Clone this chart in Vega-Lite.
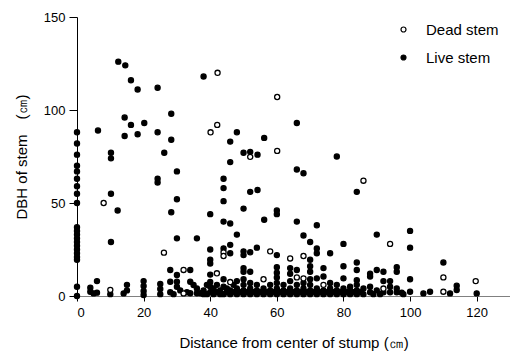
{
  "$schema": "https://vega.github.io/schema/vega-lite/v6.json",
  "width": 433,
  "height": 279,
  "autosize": "none",
  "padding": {"left": 77, "top": 17, "right": 0, "bottom": 57},
  "background": "white",
  "config": {
    "view": {"stroke": null},
    "font": "Liberation Sans",
    "axis": {"grid": false, "labelFont": "Liberation Sans", "titleFont": "Liberation Sans", "labelColor": "black", "titleColor": "black", "tickColor": "black", "domainColor": "black", "labelFontSize": 13, "titleFontSize": 15, "titleFontWeight": "normal", "tickSize": 5}
  },
  "data": {"values": [
    {"d": 0, "h": 88, "t": "Live stem"}, {"d": 0, "h": 82, "t": "Live stem"}, {"d": 0, "h": 76, "t": "Live stem"}, {"d": 0, "h": 70, "t": "Live stem"}, {"d": 0, "h": 67, "t": "Live stem"}, {"d": 0, "h": 63, "t": "Live stem"}, {"d": 0, "h": 59, "t": "Live stem"}, {"d": 0, "h": 55, "t": "Live stem"}, {"d": 0, "h": 50, "t": "Live stem"}, {"d": 0, "h": 37, "t": "Live stem"}, {"d": 0, "h": 35, "t": "Live stem"}, {"d": 0, "h": 33, "t": "Live stem"}, {"d": 0, "h": 31, "t": "Live stem"}, {"d": 0, "h": 29, "t": "Live stem"}, {"d": 0, "h": 27, "t": "Live stem"}, {"d": 0, "h": 25, "t": "Live stem"}, {"d": 0, "h": 23, "t": "Live stem"}, {"d": 0, "h": 21, "t": "Live stem"}, {"d": 0, "h": 19.5, "t": "Live stem"}, {"d": 0, "h": 5, "t": "Live stem"}, {"d": 0, "h": 0, "t": "Live stem"},
    {"d": 12.4, "h": 126, "t": "Live stem"}, {"d": 14.5, "h": 124, "t": "Live stem"}, {"d": 16.2, "h": 116, "t": "Live stem"}, {"d": 18.2, "h": 111, "t": "Live stem"}, {"d": 24.2, "h": 112, "t": "Live stem"}, {"d": 38, "h": 118, "t": "Live stem"},
    {"d": 6.3, "h": 89, "t": "Live stem"}, {"d": 14.3, "h": 96, "t": "Live stem"}, {"d": 16.2, "h": 92, "t": "Live stem"}, {"d": 20.2, "h": 93, "t": "Live stem"}, {"d": 14.3, "h": 86, "t": "Live stem"}, {"d": 18.2, "h": 87, "t": "Live stem"}, {"d": 24.2, "h": 88, "t": "Live stem"}, {"d": 28.3, "h": 98, "t": "Live stem"}, {"d": 28.3, "h": 84, "t": "Live stem"}, {"d": 26.2, "h": 77, "t": "Live stem"}, {"d": 48, "h": 88, "t": "Live stem"}, {"d": 46, "h": 83, "t": "Live stem"}, {"d": 56.2, "h": 85, "t": "Live stem"}, {"d": 50, "h": 77, "t": "Live stem"}, {"d": 52, "h": 77.5, "t": "Live stem"}, {"d": 54.2, "h": 76, "t": "Live stem"}, {"d": 66, "h": 93, "t": "Live stem"}, {"d": 78, "h": 75, "t": "Live stem"},
    {"d": 10.2, "h": 77, "t": "Live stem"}, {"d": 10.2, "h": 74, "t": "Live stem"}, {"d": 46, "h": 72, "t": "Live stem"}, {"d": 30, "h": 67, "t": "Live stem"}, {"d": 66, "h": 68, "t": "Live stem"}, {"d": 68, "h": 66, "t": "Live stem"}, {"d": 84, "h": 56, "t": "Live stem"}, {"d": 44, "h": 63, "t": "Live stem"}, {"d": 44, "h": 58, "t": "Live stem"}, {"d": 44, "h": 51, "t": "Live stem"}, {"d": 52, "h": 56, "t": "Live stem"}, {"d": 54.2, "h": 57, "t": "Live stem"}, {"d": 30, "h": 52, "t": "Live stem"}, {"d": 28.3, "h": 45, "t": "Live stem"}, {"d": 40, "h": 44, "t": "Live stem"}, {"d": 50, "h": 47, "t": "Live stem"}, {"d": 60, "h": 46, "t": "Live stem"}, {"d": 60, "h": 44, "t": "Live stem"}, {"d": 44, "h": 40, "t": "Live stem"}, {"d": 46, "h": 39, "t": "Live stem"}, {"d": 56.2, "h": 41, "t": "Live stem"}, {"d": 66, "h": 40, "t": "Live stem"}, {"d": 72, "h": 38, "t": "Live stem"}, {"d": 30, "h": 31, "t": "Live stem"}, {"d": 36, "h": 31, "t": "Live stem"}, {"d": 48, "h": 33, "t": "Live stem"}, {"d": 68, "h": 32.5, "t": "Live stem"}, {"d": 70, "h": 29, "t": "Live stem"}, {"d": 80, "h": 28, "t": "Live stem"}, {"d": 90, "h": 33, "t": "Live stem"}, {"d": 100, "h": 35, "t": "Live stem"}, {"d": 100, "h": 26, "t": "Live stem"},
    {"d": 10.2, "h": 55, "t": "Live stem"}, {"d": 12.2, "h": 46, "t": "Live stem"}, {"d": 10.2, "h": 29, "t": "Live stem"}, {"d": 24.2, "h": 63, "t": "Live stem"}, {"d": 24.2, "h": 61, "t": "Live stem"}, {"d": 40, "h": 25, "t": "Live stem"}, {"d": 40, "h": 19.5, "t": "Live stem"}, {"d": 40, "h": 17.5, "t": "Live stem"}, {"d": 44, "h": 25.6, "t": "Live stem"}, {"d": 46, "h": 27.5, "t": "Live stem"}, {"d": 46, "h": 23, "t": "Live stem"}, {"d": 50, "h": 24, "t": "Live stem"}, {"d": 50, "h": 22, "t": "Live stem"}, {"d": 52, "h": 23.5, "t": "Live stem"}, {"d": 54, "h": 26, "t": "Live stem"}, {"d": 60, "h": 22, "t": "Live stem"}, {"d": 72, "h": 25.5, "t": "Live stem"}, {"d": 72, "h": 23, "t": "Live stem"}, {"d": 76, "h": 23, "t": "Live stem"}, {"d": 80, "h": 16, "t": "Live stem"},
    {"d": 28, "h": 14, "t": "Live stem"}, {"d": 30, "h": 11.3, "t": "Live stem"}, {"d": 34, "h": 14, "t": "Live stem"}, {"d": 40, "h": 11.5, "t": "Live stem"}, {"d": 50, "h": 15, "t": "Live stem"}, {"d": 50, "h": 13, "t": "Live stem"}, {"d": 52, "h": 13, "t": "Live stem"}, {"d": 60, "h": 15.5, "t": "Live stem"}, {"d": 60, "h": 12.5, "t": "Live stem"}, {"d": 60, "h": 10, "t": "Live stem"}, {"d": 64, "h": 15, "t": "Live stem"}, {"d": 64, "h": 12, "t": "Live stem"}, {"d": 66, "h": 14, "t": "Live stem"}, {"d": 70, "h": 19.5, "t": "Live stem"}, {"d": 70, "h": 16, "t": "Live stem"}, {"d": 70, "h": 13, "t": "Live stem"}, {"d": 72, "h": 9.5, "t": "Live stem"}, {"d": 74, "h": 15, "t": "Live stem"}, {"d": 74, "h": 10.5, "t": "Live stem"}, {"d": 80, "h": 9.5, "t": "Live stem"}, {"d": 84, "h": 18, "t": "Live stem"}, {"d": 84, "h": 14, "t": "Live stem"}, {"d": 84, "h": 8.5, "t": "Live stem"}, {"d": 88, "h": 12, "t": "Live stem"}, {"d": 88, "h": 10.5, "t": "Live stem"}, {"d": 90, "h": 14, "t": "Live stem"}, {"d": 92, "h": 13, "t": "Live stem"}, {"d": 92, "h": 8, "t": "Live stem"}, {"d": 94, "h": 8, "t": "Live stem"}, {"d": 96, "h": 15.5, "t": "Live stem"}, {"d": 96, "h": 13, "t": "Live stem"}, {"d": 100, "h": 9, "t": "Live stem"}, {"d": 110, "h": 18, "t": "Live stem"},
    {"d": 114, "h": 5.5, "t": "Live stem"}, {"d": 114, "h": 3.2, "t": "Live stem"}, {"d": 112, "h": 1.4, "t": "Live stem"}, {"d": 106, "h": 2.3, "t": "Live stem"}, {"d": 104, "h": 1.4, "t": "Live stem"}, {"d": 100, "h": 2.3, "t": "Live stem"}, {"d": 97.5, "h": 1.8, "t": "Live stem"}, {"d": 120, "h": 1.4, "t": "Live stem"},
    {"d": 6, "h": 8, "t": "Live stem"}, {"d": 4, "h": 4.5, "t": "Live stem"}, {"d": 4, "h": 2.3, "t": "Live stem"}, {"d": 5, "h": 1.4, "t": "Live stem"}, {"d": 6, "h": 1.8, "t": "Live stem"}, {"d": 10, "h": 1, "t": "Live stem"}, {"d": 15, "h": 6, "t": "Live stem"}, {"d": 15, "h": 3, "t": "Live stem"}, {"d": 14, "h": 1.4, "t": "Live stem"}, {"d": 20, "h": 8, "t": "Live stem"}, {"d": 20, "h": 5.4, "t": "Live stem"}, {"d": 20, "h": 2.7, "t": "Live stem"}, {"d": 20, "h": 0.5, "t": "Live stem"}, {"d": 25, "h": 6.5, "t": "Live stem"}, {"d": 25, "h": 3.8, "t": "Live stem"}, {"d": 25, "h": 1, "t": "Live stem"}, {"d": 28, "h": 7.7, "t": "Live stem"}, {"d": 28, "h": 2, "t": "Live stem"}, {"d": 30, "h": 7.7, "t": "Live stem"}, {"d": 30, "h": 5, "t": "Live stem"}, {"d": 34, "h": 7.7, "t": "Live stem"}, {"d": 35, "h": 5.9, "t": "Live stem"}, {"d": 36, "h": 4, "t": "Live stem"}, {"d": 34, "h": 1.5, "t": "Live stem"}, {"d": 36, "h": 1.5, "t": "Live stem"}, {"d": 38, "h": 1, "t": "Live stem"}, {"d": 40, "h": 5, "t": "Live stem"}, {"d": 40, "h": 7.5, "t": "Live stem"}, {"d": 29, "h": 1, "t": "Live stem"}, {"d": 31, "h": 3, "t": "Live stem"}, {"d": 33, "h": 2, "t": "Live stem"}, {"d": 37, "h": 1.5, "t": "Live stem"},
    {"d": 38, "h": 3, "t": "Live stem"}, {"d": 39, "h": 1, "t": "Live stem"}, {"d": 39, "h": 6, "t": "Live stem"}, {"d": 40, "h": 2, "t": "Live stem"}, {"d": 41, "h": 1, "t": "Live stem"}, {"d": 41, "h": 4, "t": "Live stem"}, {"d": 42, "h": 2, "t": "Live stem"}, {"d": 42, "h": 6, "t": "Live stem"}, {"d": 43, "h": 1, "t": "Live stem"}, {"d": 43, "h": 3, "t": "Live stem"}, {"d": 44, "h": 1, "t": "Live stem"}, {"d": 44, "h": 5, "t": "Live stem"}, {"d": 44, "h": 9, "t": "Live stem"}, {"d": 45, "h": 2, "t": "Live stem"}, {"d": 45, "h": 4, "t": "Live stem"}, {"d": 46, "h": 1, "t": "Live stem"}, {"d": 46, "h": 3, "t": "Live stem"}, {"d": 47, "h": 2, "t": "Live stem"}, {"d": 47, "h": 6, "t": "Live stem"}, {"d": 48, "h": 1, "t": "Live stem"}, {"d": 48, "h": 4, "t": "Live stem"}, {"d": 48, "h": 8, "t": "Live stem"}, {"d": 49, "h": 2, "t": "Live stem"}, {"d": 50, "h": 1, "t": "Live stem"}, {"d": 50, "h": 3, "t": "Live stem"}, {"d": 50, "h": 6, "t": "Live stem"}, {"d": 50, "h": 9, "t": "Live stem"}, {"d": 51, "h": 2, "t": "Live stem"}, {"d": 52, "h": 1, "t": "Live stem"}, {"d": 52, "h": 4, "t": "Live stem"}, {"d": 52, "h": 7, "t": "Live stem"}, {"d": 53, "h": 2, "t": "Live stem"}, {"d": 54, "h": 1, "t": "Live stem"}, {"d": 54, "h": 3, "t": "Live stem"}, {"d": 54, "h": 6, "t": "Live stem"}, {"d": 55, "h": 2, "t": "Live stem"}, {"d": 56, "h": 1, "t": "Live stem"}, {"d": 56, "h": 4, "t": "Live stem"}, {"d": 57, "h": 2, "t": "Live stem"}, {"d": 58, "h": 1, "t": "Live stem"}, {"d": 58, "h": 3, "t": "Live stem"}, {"d": 58, "h": 6, "t": "Live stem"}, {"d": 59, "h": 2, "t": "Live stem"}, {"d": 60, "h": 1, "t": "Live stem"}, {"d": 60, "h": 4, "t": "Live stem"}, {"d": 60, "h": 7, "t": "Live stem"}, {"d": 61, "h": 2, "t": "Live stem"}, {"d": 62, "h": 1, "t": "Live stem"}, {"d": 62, "h": 3, "t": "Live stem"}, {"d": 62, "h": 6, "t": "Live stem"}, {"d": 63, "h": 2, "t": "Live stem"}, {"d": 64, "h": 1, "t": "Live stem"}, {"d": 64, "h": 4, "t": "Live stem"}, {"d": 64, "h": 8, "t": "Live stem"}, {"d": 65, "h": 2, "t": "Live stem"}, {"d": 66, "h": 1, "t": "Live stem"}, {"d": 66, "h": 3, "t": "Live stem"}, {"d": 66, "h": 6, "t": "Live stem"}, {"d": 67, "h": 2, "t": "Live stem"}, {"d": 68, "h": 1, "t": "Live stem"}, {"d": 68, "h": 4, "t": "Live stem"}, {"d": 68, "h": 7, "t": "Live stem"}, {"d": 69, "h": 2, "t": "Live stem"}, {"d": 70, "h": 1, "t": "Live stem"}, {"d": 70, "h": 3, "t": "Live stem"}, {"d": 70, "h": 6, "t": "Live stem"}, {"d": 70, "h": 9, "t": "Live stem"}, {"d": 71, "h": 2, "t": "Live stem"}, {"d": 72, "h": 1, "t": "Live stem"}, {"d": 72, "h": 4, "t": "Live stem"}, {"d": 73, "h": 2, "t": "Live stem"}, {"d": 74, "h": 1, "t": "Live stem"}, {"d": 74, "h": 3, "t": "Live stem"}, {"d": 75, "h": 2, "t": "Live stem"}, {"d": 76, "h": 1, "t": "Live stem"}, {"d": 76, "h": 4, "t": "Live stem"}, {"d": 76, "h": 7, "t": "Live stem"}, {"d": 77, "h": 2, "t": "Live stem"}, {"d": 78, "h": 1, "t": "Live stem"}, {"d": 78, "h": 3, "t": "Live stem"}, {"d": 78, "h": 6, "t": "Live stem"}, {"d": 79, "h": 2, "t": "Live stem"}, {"d": 80, "h": 1, "t": "Live stem"}, {"d": 80, "h": 4, "t": "Live stem"}, {"d": 81, "h": 2, "t": "Live stem"}, {"d": 82, "h": 1, "t": "Live stem"}, {"d": 82, "h": 3, "t": "Live stem"}, {"d": 82, "h": 5, "t": "Live stem"}, {"d": 83, "h": 2, "t": "Live stem"}, {"d": 84, "h": 1, "t": "Live stem"}, {"d": 84, "h": 3, "t": "Live stem"}, {"d": 84, "h": 6, "t": "Live stem"}, {"d": 85, "h": 2, "t": "Live stem"}, {"d": 86, "h": 1, "t": "Live stem"}, {"d": 86, "h": 4, "t": "Live stem"}, {"d": 88, "h": 2, "t": "Live stem"}, {"d": 88, "h": 5, "t": "Live stem"}, {"d": 89, "h": 1, "t": "Live stem"}, {"d": 90, "h": 3, "t": "Live stem"}, {"d": 91, "h": 1, "t": "Live stem"}, {"d": 92, "h": 2, "t": "Live stem"}, {"d": 94, "h": 2, "t": "Live stem"}, {"d": 94, "h": 5, "t": "Live stem"}, {"d": 96, "h": 2, "t": "Live stem"}, {"d": 96, "h": 4, "t": "Live stem"}, {"d": 98, "h": 1, "t": "Live stem"},
    {"d": 8, "h": 50, "t": "Dead stem"}, {"d": 42.2, "h": 120, "t": "Dead stem"}, {"d": 60.1, "h": 107, "t": "Dead stem"}, {"d": 40.1, "h": 88, "t": "Dead stem"}, {"d": 42.1, "h": 92, "t": "Dead stem"}, {"d": 52, "h": 74.8, "t": "Dead stem"}, {"d": 60.1, "h": 78, "t": "Dead stem"}, {"d": 86, "h": 62, "t": "Dead stem"}, {"d": 26.1, "h": 23.3, "t": "Dead stem"}, {"d": 32, "h": 14, "t": "Dead stem"}, {"d": 42, "h": 12.2, "t": "Dead stem"}, {"d": 44, "h": 23.5, "t": "Dead stem"}, {"d": 44, "h": 21.5, "t": "Dead stem"}, {"d": 46, "h": 7.5, "t": "Dead stem"}, {"d": 56, "h": 9, "t": "Dead stem"}, {"d": 58, "h": 24, "t": "Dead stem"}, {"d": 64, "h": 20.2, "t": "Dead stem"}, {"d": 68, "h": 21.5, "t": "Dead stem"}, {"d": 94, "h": 28, "t": "Dead stem"}, {"d": 110, "h": 10, "t": "Dead stem"}, {"d": 110, "h": 2.3, "t": "Dead stem"}, {"d": 119.7, "h": 8, "t": "Dead stem"}, {"d": 10, "h": 3.3, "t": "Dead stem"}, {"d": 32, "h": 1.4, "t": "Dead stem"}, {"d": 92, "h": 4, "t": "Dead stem"}, {"d": 66, "h": 10, "t": "Dead stem"}, {"d": 68, "h": 9.5, "t": "Dead stem"}, {"d": 74, "h": 6, "t": "Dead stem"}
  ]},
  "mark": {"type": "circle", "size": 26, "opacity": 1, "stroke": "black", "strokeWidth": 1.3},
  "encoding": {
    "x": {"field": "d", "type": "quantitative", "scale": {"domain": [0, 130], "nice": false}, "axis": {"values": [0, 20, 40, 60, 80, 100, 120], "title": "Distance from center of stump (㎝)", "domainColor": "#808080", "labelPadding": 5, "titlePadding": 16}},
    "y": {"field": "h", "type": "quantitative", "scale": {"domain": [0, 150], "nice": false}, "axis": {"values": [0, 50, 100, 150], "title": "DBH of stem　(㎝)", "tickSize": 8, "labelPadding": 4, "titlePadding": 14}},
    "fill": {"field": "t", "type": "nominal", "scale": {"domain": ["Dead stem", "Live stem"], "range": ["white", "black"]},
      "legend": {"title": null, "orient": "none", "legendX": 319, "legendY": 5, "symbolType": "circle", "symbolSize": 25, "symbolStrokeColor": "black", "symbolStrokeWidth": 1.2, "labelFontSize": 15, "labelFont": "Liberation Sans", "labelColor": "black", "labelOffset": 15, "rowPadding": 12}}
  }
}
